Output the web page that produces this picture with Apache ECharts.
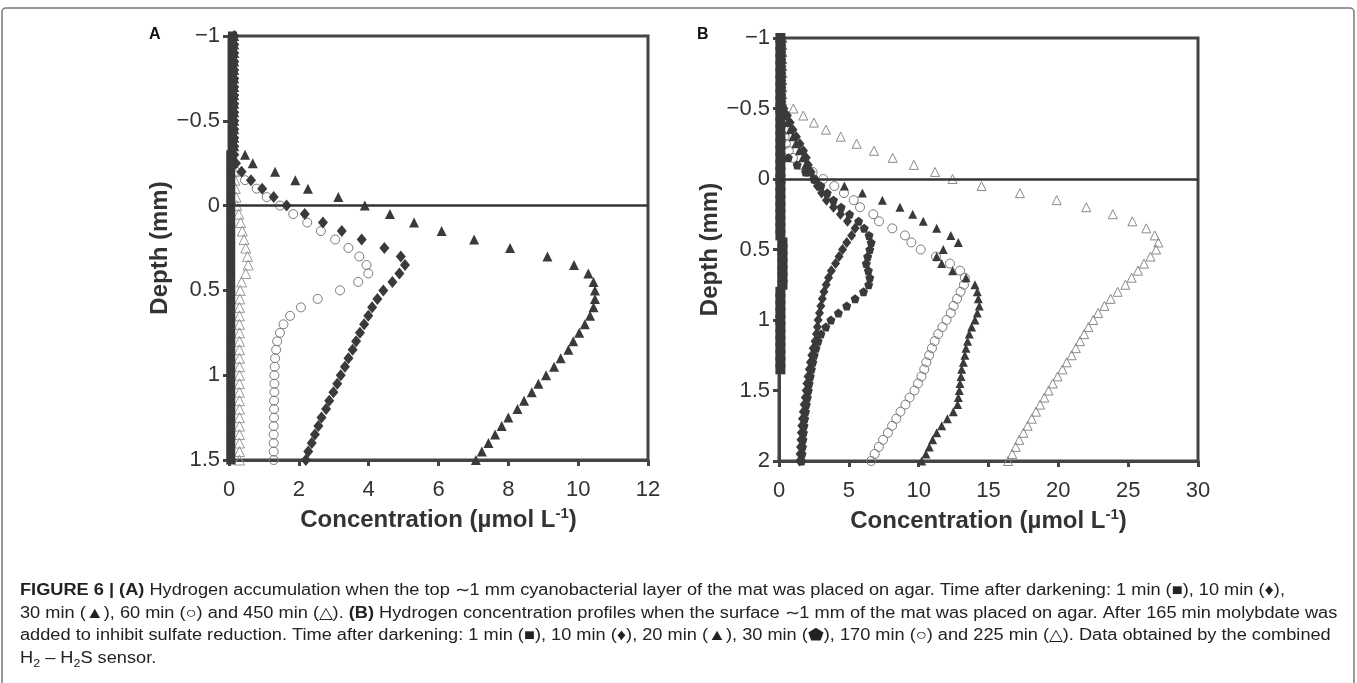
<!DOCTYPE html>
<html>
<head>
<meta charset="utf-8">
<script src="https://cdn.jsdelivr.net/npm/echarts@6.0.0/dist/echarts.min.js"></script>
<style>
html, body { margin: 0; padding: 0; background: #fff; }
#main { width: 1357px; height: 683px; }
</style>
</head>
<body>
<div id="main"></div>
<script>
// depth of each reading (mm), panel A and panel B
var depthA = [-1, -0.95, -0.9, -0.85, -0.8, -0.75, -0.7, -0.65, -0.6, -0.55, -0.5, -0.45, -0.4, -0.35, -0.3, -0.25,
  -0.2, -0.15, -0.1, -0.05, 0, 0.05, 0.1, 0.15, 0.2, 0.25, 0.3, 0.35, 0.4, 0.45, 0.5, 0.55, 0.6, 0.65, 0.7, 0.75,
  0.8, 0.85, 0.9, 0.95, 1, 1.05, 1.1, 1.15, 1.2, 1.25, 1.3, 1.35, 1.4, 1.45, 1.5];
var depthB = [-1, -0.95, -0.9, -0.85, -0.8, -0.75, -0.7, -0.65, -0.6, -0.55, -0.5, -0.45, -0.4, -0.35, -0.3, -0.25,
  -0.2, -0.15, -0.1, -0.05, 0, 0.05, 0.1, 0.15, 0.2, 0.25, 0.3, 0.35, 0.4, 0.45, 0.5, 0.55, 0.6, 0.65, 0.7, 0.75,
  0.8, 0.85, 0.9, 0.95, 1, 1.05, 1.1, 1.15, 1.2, 1.25, 1.3, 1.35, 1.4, 1.45, 1.5, 1.55, 1.6, 1.65, 1.7, 1.75,
  1.8, 1.85, 1.9, 1.95, 2];

// panel A concentrations (umol/L)
var a1min = [0.1, 0.1, 0.1, 0.1, 0.1, 0.1, 0.1, 0.1, 0.1, 0.1, 0.1, 0.1, 0.1, 0.1,
  0.05, 0.05, 0.05, 0.05, 0.05, 0.05, 0.05, 0.05, 0.05, 0.05, 0.05, 0.05, 0.05, 0.05, 0.05, 0.05, 0.05, 0.05,
  0.05, 0.05, 0.05, 0.05, 0.05, 0.05, 0.05, 0.05, 0.05, 0.05, 0.05, 0.05, 0.05, 0.05, 0.05, 0.05, 0.05, 0.05, 0.05];
var a10min = [0.15, 0.15, 0.15, 0.15, 0.15, 0.15, 0.15, 0.15, 0.15, 0.15, 0.15, 0.15, 0.15, 0.15, 0.15,
  0.2, 0.36, 0.63, 0.95, 1.28, 1.65, 2.17, 2.69, 3.23, 3.8, 4.45, 4.92, 5.04, 4.88, 4.68, 4.42, 4.25, 4.1, 3.99,
  3.87, 3.75, 3.64, 3.54, 3.42, 3.32, 3.2, 3.1, 2.99, 2.87, 2.78, 2.65, 2.56, 2.46, 2.37, 2.27, 2.2];
var a30min = [0.15, 0.15, 0.15, 0.15, 0.15, 0.15, 0.15, 0.15, 0.15, 0.15, 0.15, 0.15, 0.15, 0.15,
  0.46, 0.68, 1.32, 1.9, 2.26, 3.13, 3.89, 4.61, 5.3, 6.09, 7.02, 8.05, 9.12, 9.88, 10.29, 10.44, 10.48, 10.48,
  10.44, 10.34, 10.19, 10.03, 9.86, 9.72, 9.5, 9.31, 9.08, 8.86, 8.67, 8.45, 8.26, 8.0, 7.81, 7.62, 7.43, 7.24, 7.07];
var a60min = [null, null, null, null, null, null, null, null, null, null, null, null, null, null, null, null,
  0.2, 0.46, 0.79, 1.08, 1.46, 1.84, 2.24, 2.63, 3.04, 3.42, 3.73, 3.94, 3.99, 3.7, 3.18, 2.54, 2.06, 1.75,
  1.56, 1.46, 1.38, 1.35, 1.32, 1.31, 1.3, 1.3, 1.3, 1.29, 1.29, 1.29, 1.28, 1.28, 1.28, 1.28, 1.28];
var a450min = [null, null, null, null, null, null, null, null, null, null, null, null, null, null, null, null,
  0.15, 0.17, 0.18, 0.2, 0.22, 0.28, 0.33, 0.38, 0.43, 0.48, 0.53, 0.55, 0.48, 0.36, 0.32, 0.31, 0.3, 0.3,
  0.3, 0.3, 0.3, 0.3, 0.3, 0.3, 0.3, 0.3, 0.3, 0.3, 0.3, 0.3, 0.3, 0.3, 0.3, 0.3, 0.3];

// panel B concentrations (umol/L)
var b1min = [0.1, 0.1, 0.1, 0.1, 0.1, 0.1, 0.1, 0.1, 0.1, 0.1, 0.1, 0.1, 0.1, 0.1, 0.1, 0.1, 0.1, 0.1, 0.1, 0.1,
  0.1, 0.1, 0.1, 0.1, 0.1, 0.1, 0.1, 0.1, 0.1, 0.25, 0.25, 0.25, 0.25, 0.25, 0.25, 0.25, 0.1, 0.1, 0.1, 0.1,
  0.1, 0.1, 0.1, 0.1, 0.1, 0.1, 0.1, 0.1, null, null, null, null, null, null, null, null, null, null, null, null, null];
var b10min = [0.2, 0.2, 0.2, 0.2, 0.2, 0.2, 0.2, 0.2, 0.2, 0.2,
  0.35, 0.6, 0.8, 1.0, 1.25, 1.5, 1.75, 1.95, 2.1, 2.3, 2.5, 2.75, 3.05, 3.4, 3.9, 4.4, 4.9, 5.45, 5.2, 4.85,
  4.55, 4.3, 4.05, 3.75, 3.55, 3.38, 3.22, 3.1, 3.0, 2.9, 2.8, 2.75, 2.68, 2.58, 2.45, 2.35, 2.25, 2.17, 2.08,
  2.0, 1.95, 1.88, 1.8, 1.74, 1.68, 1.63, 1.6, 1.57, 1.54, 1.51, 1.48];
var b20min = [0.2, 0.2, 0.2, 0.2, 0.2, 0.2, 0.2, 0.2, 0.2, 0.2,
  0.3, 0.45, 0.6, 0.8, 1.0, 1.2, 1.45, 1.7, 1.9, 2.2, 2.7, 4.68, 5.97, 7.4, 8.66, 9.57, 10.33, 11.29, 12.3, 12.84,
  11.76, 11.29, 11.65, 12.43, 13.39, 14.03, 14.2, 14.27, 14.34, 14.2, 14.03, 13.79, 13.62, 13.5, 13.39, 13.31,
  13.2, 13.08, 13.03, 12.96, 12.91, 12.84, 12.79, 12.48, 12.05, 11.65, 11.29, 11.0, 10.76, 10.52, 10.21];
var b30min = [0.1, 0.1, 0.1, 0.1, 0.1, 0.1, 0.1, 0.1, 0.1, 0.1, 0.1, 0.1, 0.1, 0.1, 0.1, 0.1, 0.1,
  0.67, 1.3, 1.9, 2.5, 3.0, 3.45, 3.9, 4.45, 5.05, 5.7, 6.1, 6.45, 6.6, 6.5, 6.35, 6.25, 6.4, 6.5, 6.42, 6.05,
  5.45, 4.85, 4.25, 3.72, 3.35, 3.0, 2.8, 2.65, 2.52, 2.42, 2.32, 2.24, 2.16, 2.1, 2.03, 1.96, 1.9, 1.84, 1.79,
  1.75, 1.72, 1.68, 1.65, 1.62];
var b170min = [null, null, null, null, null, null, null, null, null, null, null, null,
  0.3, 0.35, 0.4, 0.5, 0.7, 1.0, 1.6, 2.4, 3.17, 3.96, 4.65, 5.35, 5.8, 6.75, 7.16, 8.11, 9.02, 9.48, 10.15,
  11.24, 12.24, 12.96, 13.31, 13.24, 13.0, 12.75, 12.5, 12.3, 12.0, 11.7, 11.4, 11.15, 10.95, 10.75, 10.55,
  10.4, 10.2, 9.95, 9.7, 9.35, 9.05, 8.7, 8.4, 8.1, 7.8, 7.45, 7.15, 6.85, 6.6];
var b225min = [0.25, 0.25, 0.25, 0.25, 0.25, 0.25, 0.25, 0.25, 0.25, 0.25,
  1.03, 1.74, 2.5, 3.36, 4.42, 5.56, 6.8, 8.14, 9.66, 11.17, 12.43, 14.5, 17.25, 19.88, 22.0, 23.9, 25.3, 26.3,
  26.9, 27.16, 27.0, 26.6, 26.13, 25.7, 25.25, 24.8, 24.25, 23.75, 23.3, 22.85, 22.5, 22.15, 21.85, 21.55,
  21.25, 20.95, 20.6, 20.3, 19.95, 19.6, 19.3, 19.0, 18.7, 18.4, 18.1, 17.8, 17.5, 17.2, 16.95, 16.7, 16.4];

var xTicksA = { min: 0, max: 12, interval: 2 };
var xTicksB = { min: 0, max: 30, interval: 5 };

function pairs(depth, conc) {
  var out = [];
  for (var i = 0; i < depth.length; i++) {
    if (conc[i] != null) out.push([conc[i], depth[i]]);
  }
  return out;
}

var dark = '#3a3a3a';
var font = 'Liberation Sans, Arial, sans-serif';
var pentagon = 'path://M50,0 L97.55,34.55 L79.39,90.45 L20.61,90.45 L2.45,34.55 Z';

function filled(name, idx, data, symbol, size) {
  return {
    name: name, type: 'scatter', xAxisIndex: idx, yAxisIndex: idx,
    symbol: symbol, symbolSize: size, data: data,
    itemStyle: { color: dark, opacity: 1 }
  };
}
function open(name, idx, data, symbol, size, stroke) {
  return {
    name: name, type: 'scatter', xAxisIndex: idx, yAxisIndex: idx,
    symbol: symbol, symbolSize: size, data: data,
    itemStyle: { color: 'rgba(255,255,255,0)', borderColor: stroke, borderWidth: 1, opacity: 1 }
  };
}

function xAxis(idx, t) {
  return {
    type: 'value', gridIndex: idx, min: t.min, max: t.max, interval: t.interval,
    name: 'Concentration (µmol L{sup|-1})', nameLocation: 'middle', nameGap: 40,
    nameTextStyle: {
      fontFamily: font, fontSize: 24, fontWeight: 'bold', color: '#333', lineHeight: 28,
      rich: { sup: { fontFamily: font, fontSize: 15, fontWeight: 'bold', color: '#333', verticalAlign: 'top', lineHeight: 14 } }
    },
    axisLine: { show: true, onZero: false, lineStyle: { color: '#444', width: 3 } },
    axisTick: { show: true, length: 6, lineStyle: { color: '#444', width: 3 } },
    axisLabel: { fontFamily: font, fontSize: 22, color: '#333', margin: 19 },
    splitLine: { show: false }
  };
}
function yAxis(idx, max, gap) {
  return {
    type: 'value', gridIndex: idx, min: -1, max: max, interval: 0.5, inverse: true,
    name: 'Depth (mm)', nameLocation: 'middle', nameRotate: 90, nameGap: gap,
    nameTextStyle: { fontFamily: font, fontSize: 24, fontWeight: 'bold', color: '#333' },
    axisLine: { show: true, onZero: false, lineStyle: { color: '#444', width: 3 } },
    axisTick: { show: true, length: 6, lineStyle: { color: '#444', width: 3 } },
    axisLabel: {
      fontFamily: font, fontSize: 22, color: '#333', margin: 9,
      formatter: function (v) { return String(v).replace('-', '\u2212'); }
    },
    splitLine: { show: false }
  };
}

var zeroLine = {
  silent: true, symbol: ['none', 'none'], label: { show: false },
  lineStyle: { color: '#333', width: 2.5, type: 'solid' },
  data: [{ yAxis: 0 }]
};

var sA450 = open('450 min', 0, pairs(depthA, a450min), 'triangle', 10, '#9a9a9a');
sA450.markLine = zeroLine;
var sB225 = open('225 min', 1, pairs(depthB, b225min), 'triangle', 9, '#8a8a8a');
sB225.markLine = zeroLine;

var series = [
  sA450,
  open('60 min', 0, pairs(depthA, a60min), 'circle', 9, '#7a7a7a'),
  filled('30 min', 0, pairs(depthA, a30min), 'triangle', 10),
  filled('10 min', 0, pairs(depthA, a10min), 'diamond', [10, 12]),
  filled('1 min', 0, pairs(depthA, a1min), 'rect', 9),
  sB225,
  open('170 min', 1, pairs(depthB, b170min), 'circle', 9, '#7a7a7a'),
  filled('20 min', 1, pairs(depthB, b20min), 'triangle', 9),
  filled('30 min B', 1, pairs(depthB, b30min), pentagon, 9),
  filled('10 min B', 1, pairs(depthB, b10min), 'diamond', [9, 11]),
  filled('1 min B', 1, pairs(depthB, b1min), 'rect', 10)
];

var capStyle = {
  fontFamily: font, fontSize: 16, fill: '#222', lineHeight: 22,
  rich: {
    b: { fontFamily: font, fontSize: 16, fontWeight: 'bold', fill: '#222', lineHeight: 22 },
    sub: { fontFamily: font, fontSize: 11, fill: '#222', lineHeight: 10, verticalAlign: 'bottom' }
  }
};
var captionLines = [
  '{b|FIGURE 6 | (A)} Hydrogen accumulation when the top \u223c1 mm cyanobacterial layer of the mat was placed on agar. Time after darkening: 1 min (\u25a0), 10 min (\u2666),',
  '30 min (\u25b2), 60 min (\u25cb) and 450 min (\u25b3). {b|(B)} Hydrogen concentration profiles when the surface \u223c1 mm of the mat was placed on agar. After 165 min molybdate was',
  'added to inhibit sulfate reduction. Time after darkening: 1 min (\u25a0), 10 min (\u2666), 20 min (\u25b2), 30 min (\u2b1f), 170 min (\u25cb) and 225 min (\u25b3). Data obtained by the combined',
  'H{sub|2} \u2013 H{sub|2}S sensor.'
];
var graphic = [
  { type: 'rect', shape: { x: 2, y: 8, width: 1352, height: 700, r: 4 },
    style: { fill: 'none', stroke: '#777', lineWidth: 1.5 } },
  { type: 'text', left: 149, top: 27, style: { text: 'A', fontFamily: font, fontSize: 16, fontWeight: 'bold', fill: '#111' } },
  { type: 'text', left: 697, top: 27, style: { text: 'B', fontFamily: font, fontSize: 16, fontWeight: 'bold', fill: '#111' } }
];
captionLines.forEach(function (t, i) {
  graphic.push({
    type: 'text', x: 20, y: 580 + i * 22.5, scaleX: 1.137,
    style: Object.assign({ text: t }, capStyle)
  });
});

var chart = echarts.init(document.getElementById('main'));
chart.setOption({
  animation: false,
  backgroundColor: '#fff',
  grid: [
    { left: 229, top: 36, width: 419, height: 424, show: true, borderColor: '#444', borderWidth: 3 },
    { left: 779, top: 38, width: 419, height: 423, show: true, borderColor: '#444', borderWidth: 3 }
  ],
  xAxis: [xAxis(0, xTicksA), xAxis(1, xTicksB)],
  yAxis: [yAxis(0, 1.5, 47), yAxis(1, 2, 49)],
  series: series,
  graphic: graphic
});
</script>
</body>
</html>
